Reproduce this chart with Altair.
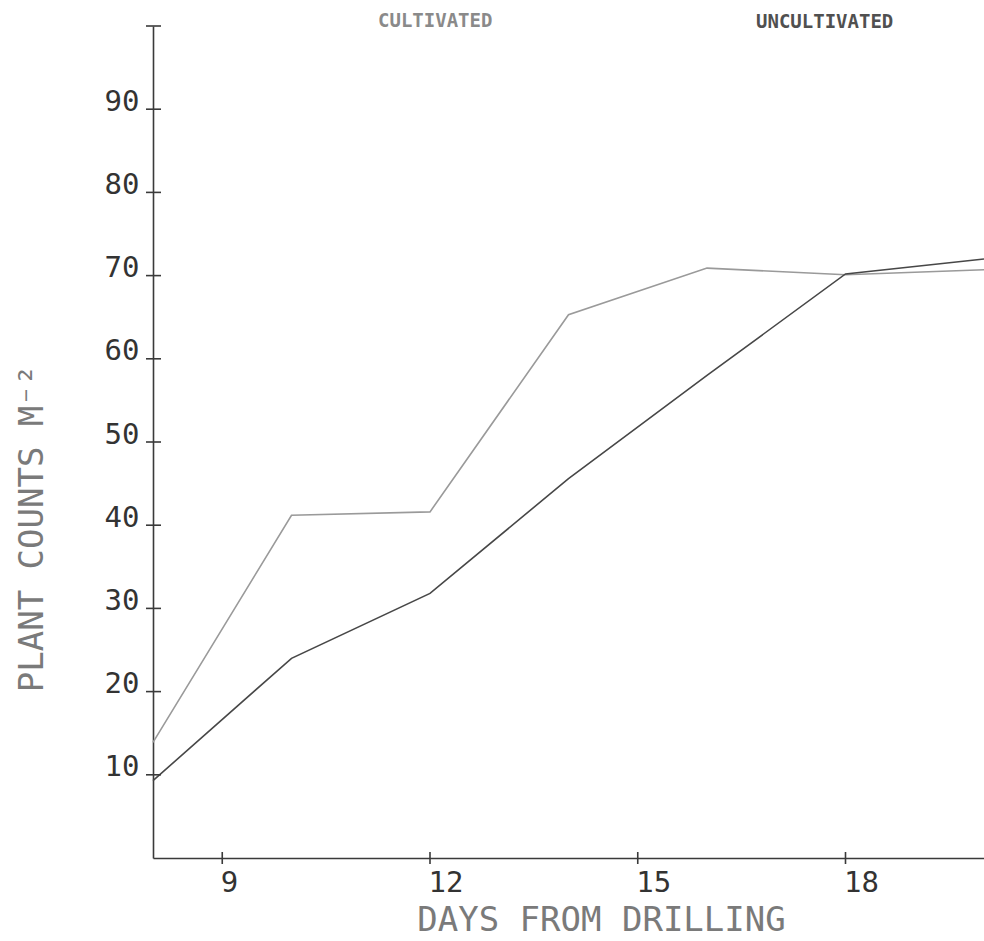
import altair as alt
import pandas as pd

# Plant counts per square metre against days from drilling
days = [8, 10, 12, 14, 16, 18, 20]
cultivated = [13.9, 41.2, 41.6, 65.3, 70.9, 70.1, 70.7]
uncultivated = [9.3, 24.0, 31.8, 45.6, 58.0, 70.2, 72.0]

series_names = ["CULTIVATED", "UNCULTIVATED"]
series_colors = ["#9a9a9a", "#474747"]

y_tick_values = [10, 20, 30, 40, 50, 60, 70, 80, 90]
y_axis_top = 100
x_tick_values = [9, 12, 15, 18]

W, H = 831, 832
MONO = "DejaVu Sans Mono"
AXIS_COLOR = "#3a3a3a"

df = pd.DataFrame({
    "day": days * 2,
    "count": cultivated + uncultivated,
    "series": [series_names[0]] * len(days) + [series_names[1]] * len(days),
})

x_scale = alt.Scale(domain=[8, 20], nice=False, zero=False)
y_scale = alt.Scale(domain=[0, y_axis_top], nice=False)

x_axis = alt.Axis(
    values=x_tick_values,
    ticks=False,
    grid=False,
    domainColor=AXIS_COLOR,
    domainWidth=1.6,
    labelFont=MONO,
    labelFontSize=29,
    labelColor="#333333",
    labelAlign="left",
    labelBaseline="top",
    labelPadding=10,
    labelOffset=-2,
    title="DAYS FROM DRILLING",
    titleFont=MONO,
    titleFontSize=34,
    titleFontWeight="normal",
    titleColor="#7a7a7a",
    titleX=448,
    titleY=62,
    titleAlign="center",
    titleBaseline="middle",
)

y_axis = alt.Axis(
    values=y_tick_values,
    ticks=False,
    grid=False,
    domainColor=AXIS_COLOR,
    domainWidth=1.6,
    labelFont=MONO,
    labelFontSize=29,
    labelColor="#333333",
    labelAlign="right",
    labelBaseline="alphabetic",
    labelPadding=14,
    labelOffset=1,
    title="PLANT COUNTS M⁻²",
    titleFont=MONO,
    titleFontSize=34,
    titleFontWeight="normal",
    titleColor="#7a7a7a",
    titleAngle=-90,
    titleX=-121,
    titleY=502,
    titleAlign="center",
    titleBaseline="middle",
)

lines = alt.Chart(df).mark_line(strokeWidth=1.6).encode(
    x=alt.X("day:Q", scale=x_scale, axis=x_axis),
    y=alt.Y("count:Q", scale=y_scale, axis=y_axis),
    color=alt.Color(
        "series:N",
        scale=alt.Scale(domain=series_names, range=series_colors),
        legend=None,
    ),
)

# Ticks that cross the axis lines, plus the cap at the top of the y axis
y_ticks = alt.Chart(pd.DataFrame({"v": y_tick_values + [y_axis_top]})).mark_rule(
    color=AXIS_COLOR, strokeWidth=1.6
).encode(
    y=alt.Y("v:Q", scale=y_scale, axis=y_axis),
    x=alt.value(-7),
    x2=alt.value(8),
)

x_ticks = alt.Chart(pd.DataFrame({"d": x_tick_values})).mark_rule(
    color=AXIS_COLOR, strokeWidth=1.6
).encode(
    x=alt.X("d:Q", scale=x_scale, axis=x_axis),
    y=alt.value(H - 6),
    y2=alt.value(H + 6),
)

# Series labels above the plot
label_cult = alt.Chart(pd.DataFrame({"t": [series_names[0]]})).mark_text(
    font=MONO, fontSize=19, fontWeight="bold", color="#8a8a8a",
    align="left", baseline="middle",
).encode(text="t:N", x=alt.value(225), y=alt.value(-5))

label_uncult = alt.Chart(pd.DataFrame({"t": [series_names[1]]})).mark_text(
    font=MONO, fontSize=19, fontWeight="bold", color="#505050",
    align="left", baseline="middle",
).encode(text="t:N", x=alt.value(603), y=alt.value(-4))

chart = alt.layer(lines, y_ticks, x_ticks, label_cult, label_uncult).properties(
    width=W,
    height=H,
    autosize=alt.AutoSizeParams(type="none"),
    padding={"left": 153, "top": 26, "right": 0, "bottom": 83},
    background="white",
).configure_view(stroke=None)

chart.save("out.html", embed_options={"renderer": "svg", "actions": False})
